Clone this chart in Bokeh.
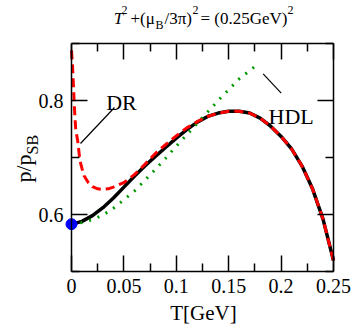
import math
from bokeh.plotting import figure
from bokeh.models import Range1d, LinearAxis, FixedTicker, Label
from bokeh.embed import file_html
from bokeh.resources import INLINE

# ---- data ----
T_full = [0, 0.01, 0.02, 0.03, 0.04, 0.05, 0.06, 0.07, 0.08, 0.09, 0.10, 0.11, 0.12,
          0.13, 0.14, 0.15, 0.16, 0.17, 0.18, 0.19, 0.20, 0.21, 0.22, 0.23, 0.24, 0.25]
p_full = [0.583, 0.588, 0.598, 0.612, 0.629, 0.648, 0.667, 0.685, 0.702, 0.718, 0.734,
          0.749, 0.762, 0.772, 0.778, 0.781, 0.781, 0.778, 0.769, 0.755, 0.737, 0.715,
          0.685, 0.645, 0.592, 0.519]

T_dr = [0, 0.001, 0.002, 0.003, 0.004, 0.006, 0.008, 0.010, 0.012, 0.016, 0.02, 0.025,
        0.03, 0.035, 0.04, 0.05, 0.06, 0.07, 0.08, 0.09, 0.10, 0.11, 0.12, 0.13, 0.14,
        0.15, 0.16, 0.17, 0.18, 0.19, 0.20, 0.21, 0.22, 0.23, 0.24, 0.25]
p_dr = [0.888, 0.86, 0.82, 0.78, 0.75, 0.728, 0.695, 0.681, 0.668, 0.656, 0.649, 0.645,
        0.644, 0.645, 0.648, 0.656, 0.670, 0.688, 0.707, 0.723, 0.738, 0.752, 0.763,
        0.772, 0.778, 0.781, 0.781, 0.778, 0.769, 0.755, 0.737, 0.715, 0.685, 0.645,
        0.592, 0.519]

T_hdl = [0, 0.01, 0.02, 0.03, 0.04, 0.05, 0.06, 0.07, 0.08, 0.09, 0.10, 0.12, 0.14,
         0.16, 0.176]
p_hdl = [0.583, 0.586, 0.591, 0.599, 0.611, 0.626, 0.641, 0.66, 0.679, 0.699, 0.72,
         0.76, 0.80, 0.838, 0.861]

T_point = [0]
p_point = [0.583]

x_lim = [0, 0.25]
y_lim = [0.5, 0.9]
x_ticks = [0, 0.05, 0.1, 0.15, 0.2, 0.25]
x_tick_labels = ["0", "0.05", "0.1", "0.15", "0.2", "0.25"]
x_minor = [0.025, 0.075, 0.125, 0.175, 0.225]
y_ticks = [0.6, 0.8]
y_tick_labels = ["0.6", "0.8"]
y_minor = [0.5, 0.7, 0.9]

dr_pointer_x = [0.0086, 0.041]
dr_pointer_y = [0.7246, 0.7877]
hdl_pointer_x = [0.1829, 0.2001]
hdl_pointer_y = [0.8468, 0.8128]

FONT = "Liberation Serif"

# layout: plotting box inside a 354x325 canvas (margins in px)
W, H = 354, 325
ML, MR, MT, MB = 71, 21, 43, 54
sx = (W - ML - MR) / (x_lim[1] - x_lim[0])
sy = (H - MT - MB) / (y_lim[1] - y_lim[0])
xr = Range1d(x_lim[0] - ML / sx, x_lim[1] + MR / sx)
yr = Range1d(y_lim[0] - MB / sy, y_lim[1] + MT / sy)

p = figure(width=W, height=H, output_backend="svg", toolbar_location=None,
           x_range=xr, y_range=yr, min_border=0, min_border_left=0,
           min_border_right=0, min_border_top=0, min_border_bottom=0,
           background_fill_color="white", border_fill_color="white")
p.grid.visible = False
p.outline_line_color = None


def style_axis(ax, ticks, minor, bounds, loc, labels=None, show_labels=True):
    ax.ticker = FixedTicker(ticks=ticks, minor_ticks=minor)
    ax.bounds = tuple(bounds)
    ax.fixed_location = loc
    ax.major_tick_in = 16
    ax.major_tick_out = 0
    ax.minor_tick_in = 8
    ax.minor_tick_out = 0
    ax.axis_line_width = 1.5
    ax.major_tick_line_width = 1.5
    ax.minor_tick_line_width = 1.5
    ax.axis_line_color = "black"
    ax.major_tick_line_color = "black"
    ax.minor_tick_line_color = "black"
    if show_labels:
        ax.major_label_text_font = FONT
        ax.major_label_text_font_size = "20px"
        ax.major_label_text_color = "black"
        if labels is not None:
            ax.major_label_overrides = dict(zip(ticks, labels))
    else:
        ax.major_label_overrides = {t: "" for t in ticks}
        ax.major_label_text_font_size = "0px"
        ax.major_label_standoff = 0


style_axis(p.xaxis[0], x_ticks, x_minor, x_lim, y_lim[0], x_tick_labels)
p.xaxis[0].major_label_standoff = 7
style_axis(p.yaxis[0], y_ticks, y_minor, y_lim, x_lim[0], y_tick_labels)
p.yaxis[0].major_label_standoff = 8

top_ax = LinearAxis()
style_axis(top_ax, x_ticks, x_minor, x_lim, y_lim[1], show_labels=False)
p.add_layout(top_ax, "above")
right_ax = LinearAxis()
style_axis(right_ax, y_ticks, y_minor, y_lim, x_lim[1], show_labels=False)
p.add_layout(right_ax, "right")

# curves
p.line(T_full, p_full, line_color="black", line_width=3.5)
p.line(T_hdl, p_hdl, line_color="#009900", line_width=3, line_dash="2 7")
p.line(T_dr, p_dr, line_color="#ff0000", line_width=3, line_dash="9 5")
p.scatter(T_point, p_point, size=11, color="#0000ff")

# pointers
p.segment(x0=[dr_pointer_x[0]], y0=[dr_pointer_y[0]], x1=[dr_pointer_x[1]],
          y1=[dr_pointer_y[1]], line_color="black", line_width=1.2)
p.segment(x0=[hdl_pointer_x[0]], y0=[hdl_pointer_y[0]], x1=[hdl_pointer_x[1]],
          y1=[hdl_pointer_y[1]], line_color="black", line_width=1.2)


def lab(x, y, text, size, units="data", **kw):
    p.add_layout(Label(x=x, y=y, text=text, text_font=FONT, text_font_size=size,
                       text_color="black", x_units=units, y_units=units, **kw))


lab(0.0331, 0.7965, "DR", "22px", text_baseline="alphabetic", text_align="left")
lab(0.188, 0.7719, "HDL", "22px", text_baseline="alphabetic", text_align="left")

# x axis label (canvas px)
lab(203, 312, "T[GeV]", "21px", units="canvas", text_baseline="alphabetic",
    text_align="center")

# y axis label p/p_SB (rotated, canvas px)
lab(23, 182, "p/p", "22px", units="canvas", angle=math.pi / 2,
    text_baseline="alphabetic", text_align="left")
lab(32, 154, "SB", "16px", units="canvas", angle=math.pi / 2,
    text_baseline="alphabetic", text_align="left")

# title: T^2+(mu_B/3pi)^2= (0.25GeV)^2 (canvas px)
y_main, y_sup, y_sub = 18, 9, 24
lab(113.3, y_main, "T", "17px", units="canvas", text_font_style="italic",
    text_baseline="alphabetic")
lab(121, y_sup, "2", "12px", units="canvas", text_baseline="alphabetic")
lab(130, y_main, "+(μ", "17px", units="canvas", text_baseline="alphabetic")
lab(155, y_sub, "B", "12px", units="canvas", text_baseline="alphabetic")
lab(164, y_main, "/3π)", "17px", units="canvas", text_baseline="alphabetic")
lab(192, y_sup, "2", "12px", units="canvas", text_baseline="alphabetic")
lab(200, y_main, "= (0.25GeV)", "17px", units="canvas", text_baseline="alphabetic")
lab(287, y_sup, "2", "12px", units="canvas", text_baseline="alphabetic")

open("out.html", "w").write(file_html(p, INLINE))
